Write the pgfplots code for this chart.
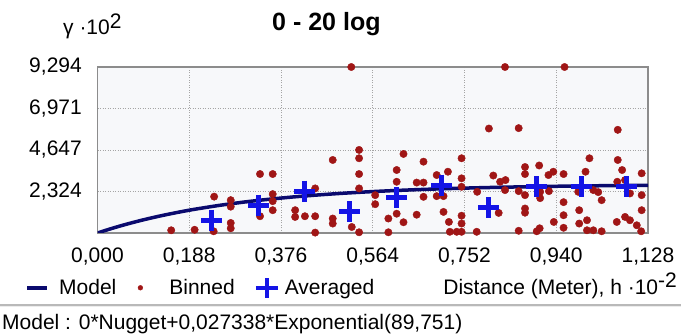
\documentclass[border=0pt]{standalone}
\usepackage{fontspec}
\setmainfont{Liberation Sans}
\usepackage{pgfplots}
\usepackage{pgfplotstable}
\pgfplotsset{compat=1.18}
\definecolor{binred}{RGB}{160,22,22}
\definecolor{avgblue}{RGB}{20,20,230}
\definecolor{modelblue}{RGB}{10,10,110}
\definecolor{gridgray}{RGB}{165,165,165}
\definecolor{framegray}{RGB}{140,140,140}
\definecolor{plotbg}{RGB}{247,248,250}

\pgfplotstableread{
x y
0.151 0.152
0.199 0.180
0.239 2.036
0.238 0.096
0.273 1.839
0.273 1.474
0.273 0.562
0.273 0.264
0.333 3.301
0.359 3.301
0.359 2.177
0.359 1.783
0.359 1.277
0.333 0.939
0.446 2.497
0.405 1.277
0.405 0.900
0.425 0.939
0.446 0.939
0.446 0.022
0.482 4.089
0.482 0.810
0.482 0.529
0.520 9.294
0.521 0.337
0.536 4.651
0.536 4.184
0.536 3.301
0.536 2.497
0.536 0.040
0.569 2.120
0.569 1.614
0.627 4.426
0.613 3.526
0.613 2.868
0.596 0.810
0.613 1.080
0.627 0.602
0.596 0.040
0.668 3.993
0.654 2.823
0.668 2.823
0.668 2.025
0.654 1.024
0.695 3.245
0.718 3.431
0.695 2.064
0.709 2.064
0.709 1.181
0.720 0.619
0.736 0.067
0.722 0.067
0.746 0.967
0.746 0.529
0.746 0.067
0.746 4.184
0.746 3.060
0.746 2.587
0.777 0.067
0.778 2.306
0.802 5.849
0.811 3.217
0.825 2.868
0.836 2.964
0.835 2.402
0.822 1.125
0.835 9.294
0.863 5.872
0.863 2.345
0.863 0.124
0.876 3.695
0.876 3.301
0.876 2.120
0.876 1.372
0.876 1.136
0.900 0.096
0.906 0.264
0.905 3.780
0.907 2.306
0.907 1.952
0.924 3.245
0.934 3.431
0.925 2.345
0.935 0.619
0.955 3.301
0.955 1.727
0.955 0.996
0.955 0.292
0.957 9.294
0.985 2.306
0.987 1.277
0.987 0.529
1.003 0.714
1.003 0.152
1.016 0.152
1.033 0.096
1.000 3.431
1.008 4.184
1.016 2.402
1.026 2.289
1.033 1.839
1.066 5.776
1.066 4.089
1.075 3.526
1.065 2.868
1.081 2.964
1.064 0.619
1.081 0.900
1.091 0.714
1.105 0.433
1.114 0.096
1.115 3.341
1.115 2.120
1.115 1.277
1.091 2.216
}\binned

\pgfplotstableread{
x y
0.234 0.714
0.329 1.558
0.425 2.345
0.517 1.181
0.613 1.980
0.705 2.683
0.802 1.400
0.900 2.595
0.991 2.595
1.083 2.595
}\averaged

\pgfplotstableread{
x y
0.000 0.000
0.025 0.219
0.050 0.421
0.075 0.606
0.100 0.777
0.125 0.934
0.150 1.078
0.175 1.211
0.200 1.333
0.250 1.548
0.300 1.731
0.350 1.885
0.400 2.016
0.450 2.126
0.500 2.220
0.550 2.299
0.600 2.366
0.650 2.422
0.700 2.470
0.750 2.511
0.800 2.545
0.850 2.574
0.900 2.599
0.950 2.620
1.000 2.637
1.050 2.652
1.128 2.671
}\model

\newcommand{\lbl}{\fontsize{21bp}{21bp}\selectfont}

\begin{document}
\begin{tikzpicture}
\useasboundingbox (0,0) rectangle (681bp,335bp);
\begin{axis}[
  at={(97.5bp,102bp)}, anchor=south west,
  scale only axis, width=550.5bp, height=166bp,
  xmin=0, xmax=1.128, ymin=0, ymax=9.294,
  xtick={0,0.188,0.376,0.564,0.752,0.940,1.128},
  ytick={2.324,4.647,6.971,9.294},
  scaled ticks=false,
  /pgf/number format/assume math mode=true,
  xticklabel={\pgfmathprintnumber[fixed,fixed zerofill,precision=3,use comma]{\tick}},
  yticklabel={\pgfmathprintnumber[fixed,fixed zerofill,precision=3,use comma]{\tick}},
  xticklabel style={anchor=north, inner sep=0pt, yshift=-15bp, font=\lbl},
  yticklabel style={anchor=east, inner sep=0pt, xshift=-15.5bp, font=\lbl},
  major tick length=0pt,
  grid=major,
  major grid style={gridgray, line width=0.8bp, dash pattern=on 1bp off 1.5bp},
  axis line style={framegray, line width=1.2bp},
  axis background/.style={fill=plotbg},
  title={0 - 20 log},
  title style={at={(axis description cs:0.317,1.1867)}, anchor=base west, inner sep=0pt, font=\fontsize{25bp}{25bp}\selectfont\bfseries},
  ylabel={γ ·10\raisebox{0.33em}{2}},
  every axis y label/.style={at={(axis description cs:-0.0627,1.193)}, anchor=base west, inner sep=0pt, font=\lbl},
  xlabel={Distance (Meter), h ·10\raisebox{0.3em}{-2}},
  every axis x label/.style={at={(axis description cs:1.0527,-0.3675)}, anchor=base east, inner sep=0pt, font=\lbl},
  legend columns=3,
  legend cell align=left,
  legend style={at={(axis description cs:-0.1317,-0.3300)}, anchor=west, draw=none, fill=none, inner sep=0pt, column sep=0pt, nodes={inner sep=0pt}, font=\lbl},
]
\addlegendimage{legend image code/.code={\path[draw=none,fill=none] (0,-1bp) rectangle (32bp,1bp); \draw[modelblue, line width=4bp] (0,0) -- (20bp,0);}}
\addlegendentry{Model}
\addlegendimage{legend image code/.code={\path[draw=none,fill=none] (0,-1bp) rectangle (53bp,1bp); \fill[binred] (24bp,0) circle (2.4bp);}}
\addlegendentry{Binned}
\addlegendimage{legend image code/.code={\path[draw=none,fill=none] (0,-1bp) rectangle (50bp,1bp); \draw[avgblue, line width=4.5bp] (21bp,0) -- (43bp,0) (32bp,-10bp) -- (32bp,10bp);}}
\addlegendentry{Averaged}

\addplot[only marks, mark=*, mark size=3.7bp, binred, mark options={draw=binred, fill=binred}, forget plot] table {\binned};
\addplot[modelblue, line width=3.5bp, smooth, forget plot] table {\model};
\addplot[only marks, mark=+, mark size=10.5bp, avgblue, mark options={line width=5bp}, forget plot] table {\averaged};
\end{axis}
\draw[gray!55, line width=1.5bp] (0,30bp) -- (681bp,30bp);
\draw[gray!15, line width=1bp] (0,28.5bp) -- (681bp,28.5bp);
\node[anchor=base west, inner sep=0pt, font=\lbl] at (2bp,6bp) {Model : 0*Nugget+0,027338*Exponential(89,751)};
\end{tikzpicture}
\end{document}
